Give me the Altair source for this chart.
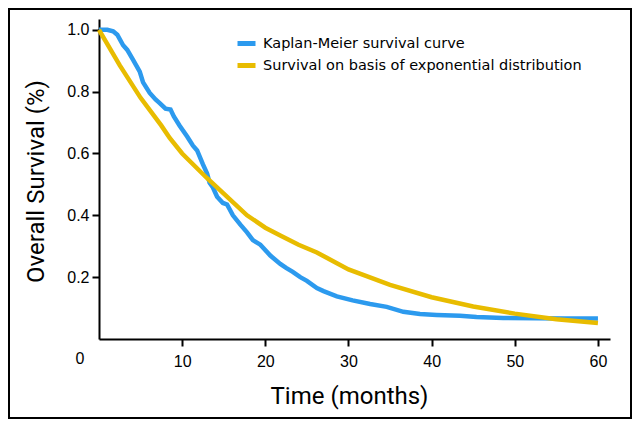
import altair as alt
import pandas as pd

# Kaplan-Meier curve
km_t = [0, 1.0, 1.7, 2.2, 2.9, 3.4, 4.1, 4.9, 5.3, 6.1, 6.8, 7.3, 8.0, 8.6, 9.0, 9.7,
        10.6, 11.3, 11.8, 12.5, 13.0, 13.3, 13.7, 14.2, 14.9, 15.4, 16.1, 17.0, 17.8,
        18.5, 19.4, 20.6, 21.8, 22.5, 23.3, 24.2, 25.0, 26.2, 27.0, 28.6, 30.5, 32.6,
        34.6, 36.6, 38.6, 40.6, 43.4, 45.4, 48.6, 52.6, 56.0, 60.0]
km_v = [1.0, 1.0, 0.995, 0.984, 0.95, 0.935, 0.903, 0.865, 0.83, 0.796, 0.775, 0.763,
        0.745, 0.742, 0.72, 0.69, 0.655, 0.625, 0.61, 0.565, 0.535, 0.505, 0.49, 0.46,
        0.44, 0.435, 0.40, 0.37, 0.345, 0.32, 0.305, 0.27, 0.243, 0.23, 0.217, 0.2,
        0.188, 0.165, 0.155, 0.138, 0.125, 0.113, 0.104, 0.088, 0.081, 0.078, 0.075,
        0.071, 0.068, 0.067, 0.066, 0.066]

# Exponential-distribution curve
ex_t = [0, 2.5, 5, 7.5, 8.5, 10, 13, 15, 17.8, 20, 21.8, 24, 26.2, 30, 35, 40, 45, 50, 55, 60]
ex_v = [1.0, 0.885, 0.78, 0.69, 0.65, 0.60, 0.52, 0.47, 0.40, 0.36, 0.335, 0.305, 0.28,
        0.225, 0.175, 0.135, 0.105, 0.082, 0.064, 0.052]

series_names = ["Kaplan-Meier survival curve", "Survival on basis of exponential distribution"]
series_colors = ["#2C9AEE", "#E8BC00"]

x_ticks = [10, 20, 30, 40, 50, 60]
y_ticks = [0.2, 0.4, 0.6, 0.8, 1.0]

df = pd.concat([
    pd.DataFrame({"t": km_t, "v": km_v, "series": series_names[0], "o": 0}),
    pd.DataFrame({"t": ex_t, "v": ex_v, "series": series_names[1], "o": 1}),
], ignore_index=True)

label_font = "Liberation Sans"
legend_font = "DejaVu Sans"
title_font = "Roboto"

x_scale = alt.Scale(domain=[0, 61.45], nice=False, zero=False)
y_scale = alt.Scale(domain=[0, 1.035], nice=False, zero=False)

lines = alt.Chart(df).mark_line(strokeWidth=4.5).encode(
    x=alt.X("t:Q", scale=x_scale,
            axis=alt.Axis(values=x_ticks, title="Time (months)", grid=False,
                          domainColor="black", domainWidth=2, tickColor="black",
                          tickWidth=2, tickSize=7, labelPadding=7,
                          labelFont=label_font, labelFontSize=16, labelColor="black",
                          titleFont=title_font, titleFontSize=24, titleFontWeight="normal",
                          titleColor="black", titleX=250, titleY=57,
                          titleBaseline="middle", titleAlign="center")),
    y=alt.Y("v:Q", scale=y_scale,
            axis=alt.Axis(values=y_ticks, format=".1f", title="Overall Survival (%)", grid=False,
                          domainColor="black", domainWidth=2, tickColor="black",
                          tickWidth=2, tickSize=7, labelPadding=3,
                          labelFont=label_font, labelFontSize=16, labelColor="black",
                          titleFont=title_font, titleFontSize=24, titleFontWeight="normal",
                          titleColor="black", titleX=-63, titleY=162, titleAngle=-90,
                          titleBaseline="middle", titleAlign="center")),
    color=alt.Color("series:N",
                    scale=alt.Scale(domain=series_names, range=series_colors),
                    legend=alt.Legend(title=None, orient="none", legendX=136, legendY=13,
                                      symbolType="stroke", symbolSize=324,
                                      symbolStrokeWidth=5, labelFont=legend_font,
                                      labelFontSize=14.5, labelColor="black", labelLimit=0,
                                      labelOffset=5, rowPadding=0)),
    order=alt.Order("o:Q"),
    detail="series:N",
)

zero_df = pd.DataFrame({"t": [0], "v": [0], "label": ["0"]})
zero_label = alt.Chart(zero_df).mark_text(
    font=label_font, fontSize=16, color="black", dx=-19, dy=20, baseline="middle"
).encode(x=alt.X("t:Q", scale=x_scale), y=alt.Y("v:Q", scale=y_scale), text="label:N")

frame = alt.Chart(pd.DataFrame({"a": [0]})).mark_rect(
    fill=None, stroke="black", strokeWidth=2
).encode(x=alt.value(-90), x2=alt.value(532), y=alt.value(-10), y2=alt.value(399))

chart = alt.layer(lines, zero_label, frame).properties(
    width=511, height=320,
    padding={"left": 91, "top": 11, "right": 22, "bottom": 80},
    autosize=alt.AutoSizeParams(type="none"),
).configure_view(stroke=None)

chart.save("out.html", embed_options={"renderer": "svg", "actions": False})
